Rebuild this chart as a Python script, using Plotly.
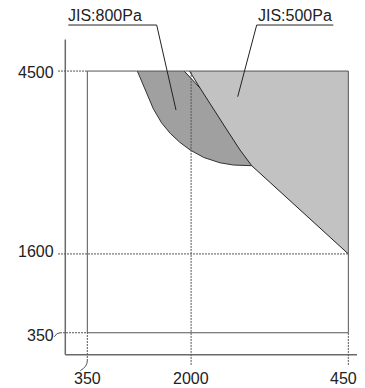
import plotly.graph_objects as go

# ---- data ----
rect_min = 350
rect_max = 4500
ref_x = 2000
ref_y = 1600

x_tick_values = [350, 2000, 4500]
x_tick_labels = ["350", "2000", "4500"]
y_tick_values = [4500, 1600, 350]
y_tick_labels = ["4500", "1600", "350"]

# JIS:500Pa region boundary (left/lower edge), from top down to the right side
pa500_x = [1975, 2142, 2571, 2778, 2964, 4500]
pa500_y = [4500, 4231, 3565, 3248, 2999, 1600]

# JIS:800Pa region left/lower curve
pa800_x = [1145, 1250, 1400, 1530, 1667, 1820, 1983, 2200, 2460, 2672, 2964]
pa800_y = [4500, 4250, 3900, 3680, 3513, 3370, 3250, 3130, 3045, 3010, 2999]
# JIS:800Pa upper-right edge that merges into the 500Pa edge
pa800_edge_x = [1890, 2142]
pa800_edge_y = [4500, 4231]

labels = ["JIS:800Pa", "JIS:500Pa"]

# axis ranges chosen so that the drawing matches the picture
# (the page body adds an 8px offset, compensated here)
x_range = [-911, 4892]
y_range = [-653, 5500]

fig = go.Figure()

# 500 Pa polygon
p5x = [pa500_x[0], rect_max, rect_max] + pa500_x[::-1][1:]
p5y = [rect_max, rect_max, ref_y] + pa500_y[::-1][1:]
fig.add_trace(go.Scatter(x=p5x, y=p5y, mode="lines", fill="toself",
                         fillcolor="#c2c2c2", line=dict(width=0), hoverinfo="skip"))

# 800 Pa polygon
idx = pa500_x.index(pa800_edge_x[1])
j = pa500_x.index(pa800_x[-1])
p8x = pa800_x + pa500_x[idx:j + 1][::-1][1:] + [pa800_edge_x[0]]
p8y = pa800_y + pa500_y[idx:j + 1][::-1][1:] + [pa800_edge_y[0]]
fig.add_trace(go.Scatter(x=p8x, y=p8y, mode="lines", fill="toself",
                         fillcolor="#a0a0a0", line=dict(width=0), hoverinfo="skip"))

# boundaries
fig.add_trace(go.Scatter(x=pa800_x, y=pa800_y, mode="lines",
                         line=dict(color="#333333", width=1), hoverinfo="skip"))
fig.add_trace(go.Scatter(x=pa500_x, y=pa500_y, mode="lines",
                         line=dict(color="#222222", width=1), hoverinfo="skip"))
fig.add_trace(go.Scatter(x=pa800_edge_x, y=pa800_edge_y, mode="lines",
                         line=dict(color="#222222", width=1), hoverinfo="skip"))

shapes = []
# axes lines
shapes.append(dict(type="line", x0=0, x1=x_range[1] + 100, y0=0, y1=0,
                   line=dict(color="#6a6a6a", width=1.5)))
shapes.append(dict(type="line", x0=0, x1=0, y0=0, y1=5000,
                   line=dict(color="#6a6a6a", width=1.5)))
# rectangle
shapes.append(dict(type="rect", x0=rect_min, x1=rect_max, y0=rect_min, y1=rect_max,
                   line=dict(color="#555555", width=1)))
dash = dict(color="#555555", width=1, dash="2px,1px")
# dashed reference lines
shapes.append(dict(type="line", x0=-116, x1=rect_min, y0=rect_max, y1=rect_max, line=dash))
shapes.append(dict(type="line", x0=-116, x1=rect_max, y0=ref_y, y1=ref_y, line=dash))
shapes.append(dict(type="line", x0=-84, x1=rect_min, y0=rect_min, y1=rect_min, line=dash))
shapes.append(dict(type="line", x0=ref_x, x1=ref_x, y0=-160, y1=rect_max, line=dash))
shapes.append(dict(type="line", x0=rect_max, x1=rect_max, y0=-160, y1=rect_min, line=dash))
shapes.append(dict(type="line", x0=rect_min, x1=rect_min, y0=-98, y1=rect_min, line=dash))
# small curly leaders
shapes.append(dict(type="path", path="M 350,-98 Q 345,-190 240,-250",
                   line=dict(color="#555555", width=1)))
shapes.append(dict(type="path", path="M -84,350 Q -140,350 -175,285",
                   line=dict(color="#555555", width=1)))
# label leaders
shapes.append(dict(type="path", path="M 48,5230 L 1453,5230 L 1760,3882",
                   line=dict(color="#222222", width=1)))
shapes.append(dict(type="path", path="M 4261,5230 L 3043,5230 L 2741,4093",
                   line=dict(color="#222222", width=1)))

font = dict(family="Liberation Sans, Arial, sans-serif", size=16, color="#222222")
ann = []
for v, t in zip(x_tick_values, x_tick_labels):
    ann.append(dict(x=v, y=0, text=t, showarrow=False, xanchor="center", yanchor="middle",
                    yshift=-24, font=font))
y_shift = {4500: -1, 1600: 2, 350: -3}
for v, t in zip(y_tick_values, y_tick_labels):
    ann.append(dict(x=0, y=v, text=t, showarrow=False, xanchor="right", yanchor="middle",
                    xshift=-9, yshift=y_shift[v], font=font))
ann.append(dict(x=48, y=5230, text=labels[0], showarrow=False, xanchor="left",
                yanchor="bottom", xshift=-2, yshift=-1, font=font))
ann.append(dict(x=3043, y=5230, text=labels[1], showarrow=False, xanchor="left",
                yanchor="bottom", xshift=-1, yshift=-1, font=font))

fig.update_layout(
    width=365, height=388, margin=dict(l=0, r=0, t=0, b=0),
    paper_bgcolor="white", plot_bgcolor="white", showlegend=False,
    shapes=shapes, annotations=ann,
    xaxis=dict(range=x_range, visible=False, fixedrange=True),
    yaxis=dict(range=y_range, visible=False, fixedrange=True),
)

fig.write_html("out.html")
